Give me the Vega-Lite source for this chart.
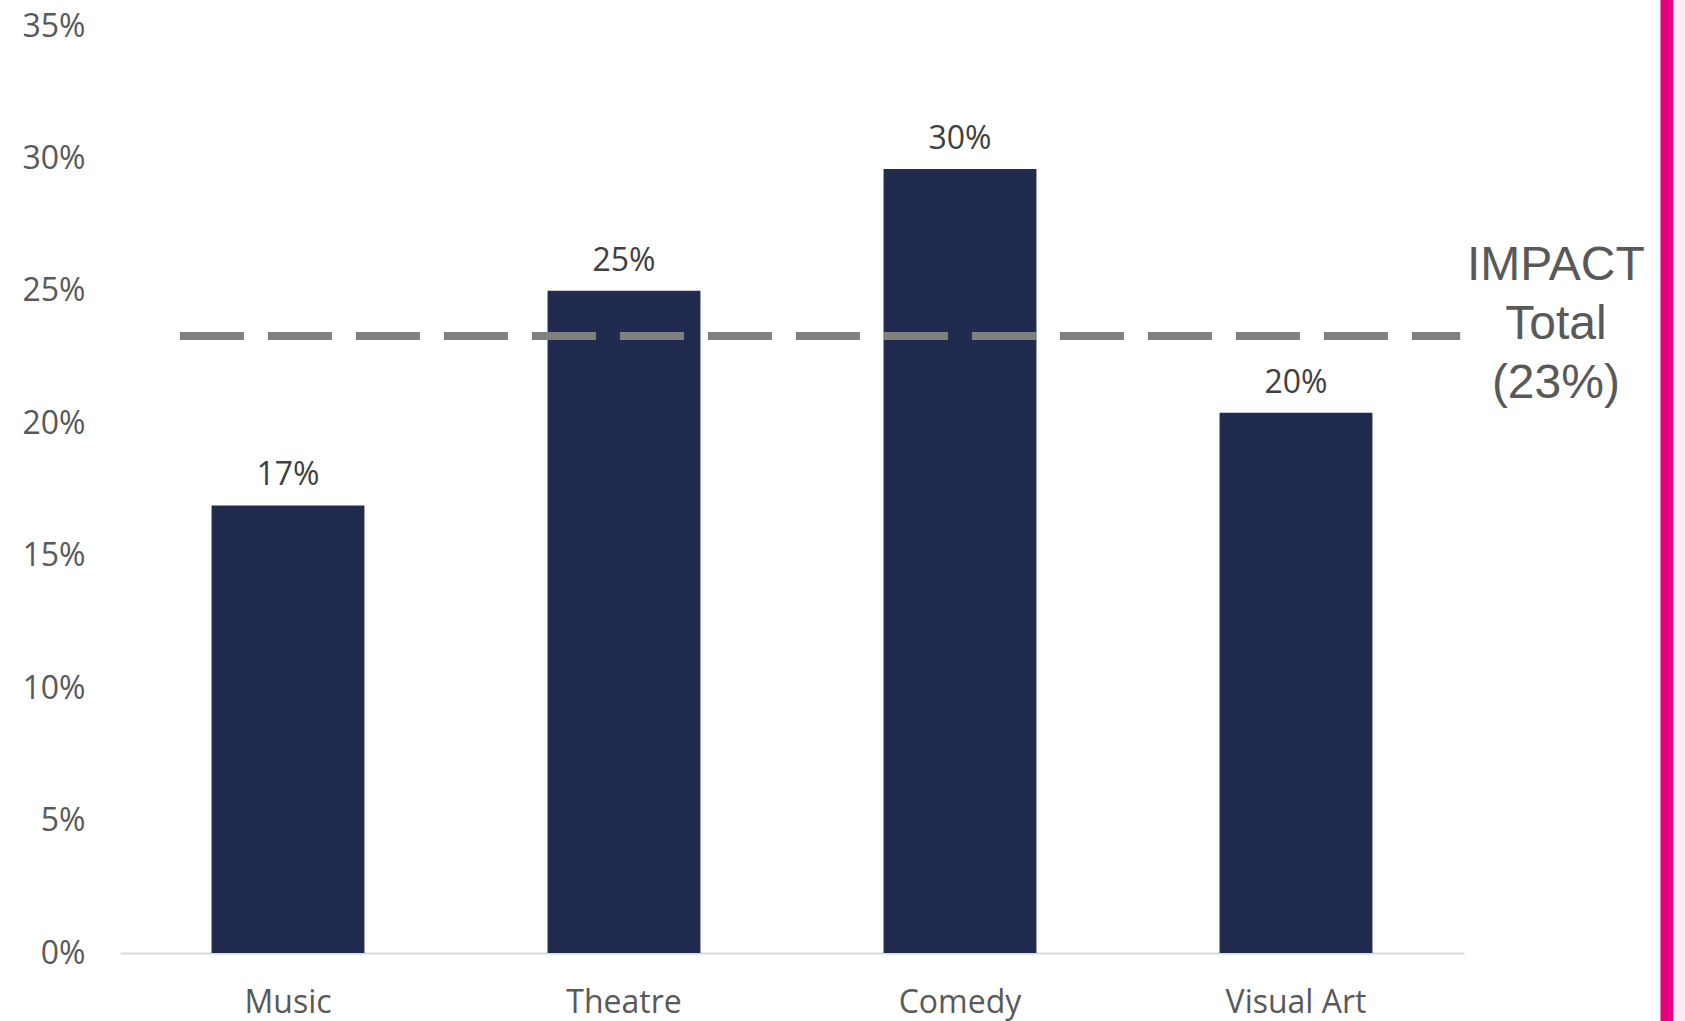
{
  "$schema": "https://vega.github.io/schema/vega-lite/v6.json",
  "width": 1344,
  "height": 927,
  "autosize": {"type": "none"},
  "padding": {"left": 120, "top": 26, "right": 221, "bottom": 68},
  "background": "white",
  "config": {"view": {"stroke": null}},
  "datasets": {
    "bars": [
      {"category": "Music", "value": 16.9, "label": "17%"},
      {"category": "Theatre", "value": 25.0, "label": "25%"},
      {"category": "Comedy", "value": 29.6, "label": "30%"},
      {"category": "Visual Art", "value": 20.4, "label": "20%"}
    ],
    "ref": [{"name": "IMPACT Total", "value": 23.3, "text": ["IMPACT", "Total", "(23%)"]}]
  },
  "encoding": {
    "x": {
      "field": "category", "type": "nominal", "sort": null,
      "scale": {"domain": ["Music", "Theatre", "Comedy", "Visual Art"], "paddingInner": 0.545, "paddingOuter": 0.2725},
      "axis": {"title": null, "labelAngle": 0, "ticks": false, "domainColor": "#D9D9D9", "domainWidth": 2,
               "labelFont": "Open Sans", "labelFontSize": 32, "labelColor": "#595959", "labelPadding": 34}
    },
    "y": {
      "field": "value", "type": "quantitative",
      "scale": {"domain": [0, 35]},
      "axis": {"title": null, "values": [0, 5, 10, 15, 20, 25, 30, 35], "grid": false, "domain": false, "ticks": false,
               "labelExpr": "datum.value + '%'", "labelFont": "Open Sans", "labelFontSize": 32, "labelColor": "#595959", "labelPadding": 35}
    }
  },
  "layer": [
    {
      "data": {"name": "bars"},
      "mark": {"type": "bar", "color": "#212A4F"}
    },
    {
      "data": {"name": "bars"},
      "mark": {"type": "text", "baseline": "alphabetic", "dy": -20, "font": "Open Sans", "fontSize": 32, "color": "#404040"},
      "encoding": {"text": {"field": "label"}}
    },
    {
      "data": {"name": "ref"},
      "mark": {"type": "rule", "color": "#808080", "strokeWidth": 8, "strokeDash": [64, 24], "strokeCap": "butt"},
      "encoding": {
        "x": {"datum": "Music", "bandPosition": -0.207},
        "x2": {"datum": "Visual Art", "bandPosition": 1.574},
        "y": {"field": "value", "type": "quantitative"}
      }
    },
    {
      "data": {"name": "ref"},
      "mark": {"type": "text", "font": "Liberation Sans", "fontSize": 48, "lineHeight": 59, "color": "#595959", "align": "center", "baseline": "middle", "dy": -70},
      "encoding": {
        "x": {"datum": "Visual Art", "bandPosition": 2.2},
        "y": {"field": "value", "type": "quantitative"},
        "text": {"field": "text"}
      }
    },
    {
      "data": {"name": "ref"},
      "mark": {"type": "rect", "color": "#E6007E", "clip": false},
      "encoding": {
        "x": {"datum": "Visual Art", "bandPosition": 2.884},
        "x2": {"datum": "Visual Art", "bandPosition": 2.969},
        "y": {"datum": 36.5},
        "y2": {"datum": -3}
      }
    },
    {
      "data": {"name": "ref"},
      "mark": {"type": "rect", "color": "#FDE9F3", "clip": false},
      "encoding": {
        "x": {"datum": "Visual Art", "bandPosition": 2.969},
        "x2": {"datum": "Visual Art", "bandPosition": 3.2},
        "y": {"datum": 36.5},
        "y2": {"datum": -3}
      }
    }
  ]
}
